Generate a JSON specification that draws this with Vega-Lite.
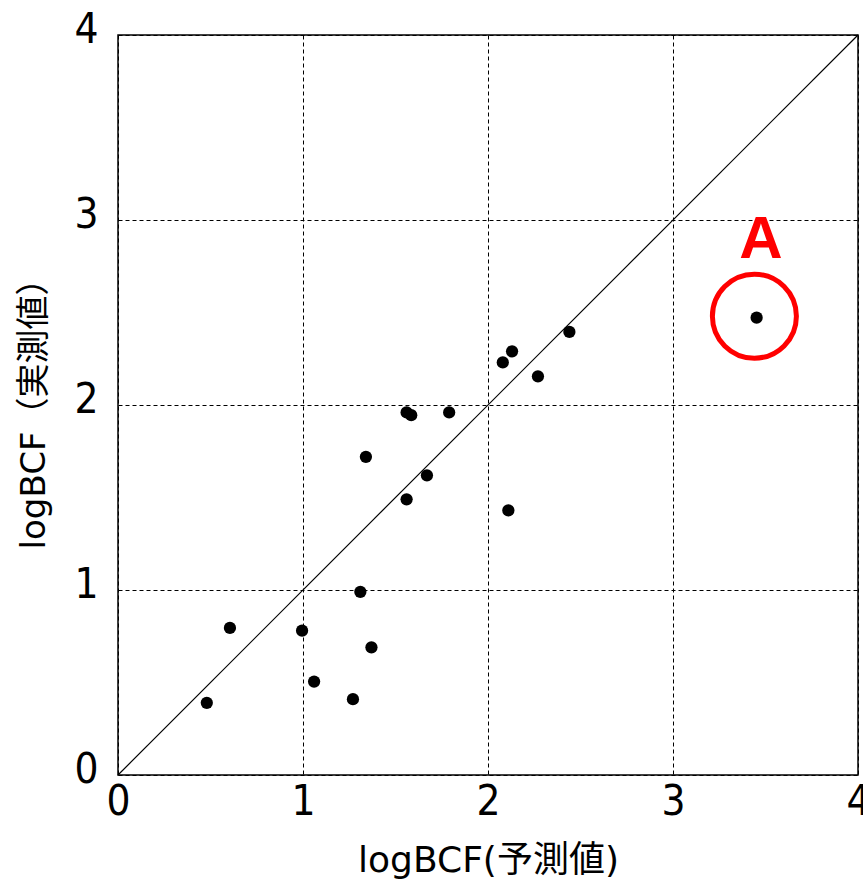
{
  "$schema": "https://vega.github.io/schema/vega-lite/v6.json",
  "width": 740,
  "height": 740,
  "autosize": {"type": "none"},
  "padding": {"left": 118, "top": 35, "right": 5, "bottom": 107},
  "background": "white",
  "config": {
    "view": {"stroke": "black", "strokeWidth": 1.5},
    "axis": {
      "grid": true,
      "gridColor": "black",
      "gridDash": [4, 3],
      "gridWidth": 1,
      "gridOpacity": 1,
      "domain": false,
      "ticks": false,
      "labelFlush": false,
      "labelOverlap": false,
      "labelFont": "DejaVu Sans Condensed, DejaVu Sans",
      "labelFontSize": 42,
      "labelColor": "black",
      "titleColor": "black",
      "titleFontWeight": "normal"
    }
  },
  "datasets": {
    "pts": [
      {"pred": 0.48, "obs": 0.39},
      {"pred": 0.605, "obs": 0.795},
      {"pred": 0.995, "obs": 0.78},
      {"pred": 1.06, "obs": 0.505},
      {"pred": 1.27, "obs": 0.41},
      {"pred": 1.31, "obs": 0.99},
      {"pred": 1.37, "obs": 0.69},
      {"pred": 1.34, "obs": 1.72},
      {"pred": 1.56, "obs": 1.49},
      {"pred": 1.56, "obs": 1.96},
      {"pred": 1.585, "obs": 1.945},
      {"pred": 1.67, "obs": 1.62},
      {"pred": 1.79, "obs": 1.96},
      {"pred": 2.08, "obs": 2.23},
      {"pred": 2.13, "obs": 2.29},
      {"pred": 2.11, "obs": 1.43},
      {"pred": 2.27, "obs": 2.155},
      {"pred": 2.44, "obs": 2.395},
      {"pred": 3.452, "obs": 2.472}
    ],
    "diag": [{"pred": 0, "obs": 0}, {"pred": 4, "obs": 4}],
    "mark": [{"pred": 3.44, "obs": 2.48, "label": "A", "lx": 3.475, "ly": 2.89}]
  },
  "layer": [
    {
      "data": {"name": "diag"},
      "mark": {"type": "line", "color": "black", "strokeWidth": 1.2},
      "encoding": {
        "x": {
          "field": "pred", "type": "quantitative",
          "scale": {"domain": [0, 4], "nice": false},
          "axis": {
            "values": [0, 1, 2, 3, 4], "format": "d",
            "title": "logBCF(予測値)",
            "titleFont": "DejaVu Sans, Noto Sans CJK JP",
            "titleFontSize": 36,
            "labelPadding": 6,
            "titlePadding": 21
          }
        },
        "y": {
          "field": "obs", "type": "quantitative",
          "scale": {"domain": [0, 4], "nice": false},
          "axis": {
            "values": [0, 1, 2, 3, 4], "format": "d",
            "title": "logBCF（実測値）",
            "titleFont": "DejaVu Sans, Noto Sans CJK JP",
            "titleFontSize": 34,
            "labelPadding": 20,
            "labelBaseline": "middle",
            "labelOffset": -6,
            "titlePadding": 22
          }
        }
      }
    },
    {
      "data": {"name": "pts"},
      "mark": {"type": "point", "filled": true, "color": "black", "opacity": 1, "size": 150},
      "encoding": {
        "x": {"field": "pred", "type": "quantitative"},
        "y": {"field": "obs", "type": "quantitative"}
      }
    },
    {
      "data": {"name": "mark"},
      "mark": {"type": "point", "shape": "circle", "filled": false, "color": "#ff0000", "strokeWidth": 5, "opacity": 1, "size": 7056},
      "encoding": {
        "x": {"field": "pred", "type": "quantitative"},
        "y": {"field": "obs", "type": "quantitative"}
      }
    },
    {
      "data": {"name": "mark"},
      "mark": {"type": "text", "color": "#ff0000", "font": "Liberation Sans", "fontWeight": "bold", "fontSize": 60, "baseline": "middle", "align": "center"},
      "encoding": {
        "x": {"field": "lx", "type": "quantitative"},
        "y": {"field": "ly", "type": "quantitative"},
        "text": {"field": "label"}
      }
    }
  ]
}
